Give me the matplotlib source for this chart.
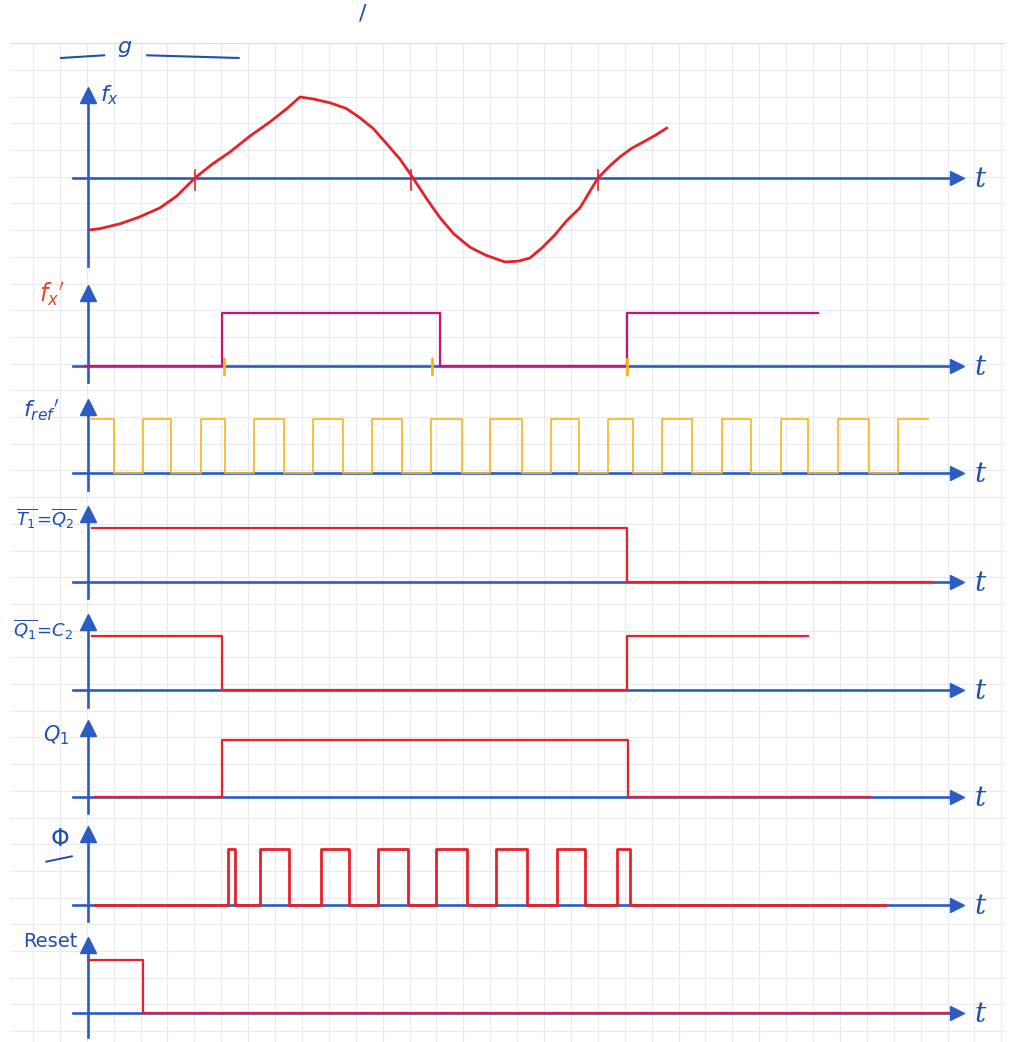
import numpy as np
import matplotlib
matplotlib.use("Agg")
import matplotlib.pyplot as plt

# ---------------- data (time in grid cells, levels in grid cells) ----------------
# analog input f_x
fx_t = [0.07, 0.45, 1.19, 1.9, 2.68, 3.3, 3.98, 4.6, 5.28, 6.0, 6.77, 7.4, 7.88, 8.4, 9.0,
        9.6, 10.11, 10.6, 11.04, 11.6, 12.08, 12.6, 13.09, 13.6, 14.2, 14.8, 15.5, 16.0,
        16.43, 16.9, 17.36, 17.8, 18.29, 18.96, 19.4, 19.78, 20.2, 20.71, 21.1, 21.52]
fx_v = [-1.95, -1.9, -1.72, -1.47, -1.12, -0.68, 0.0, 0.5, 0.97, 1.55, 2.1, 2.6, 3.03, 2.95, 2.81,
        2.6, 2.25, 1.85, 1.35, 0.7, 0.0, -0.8, -1.5, -2.1, -2.6, -2.9, -3.15, -3.12,
        -3.0, -2.6, -2.13, -1.6, -1.12, 0.0, 0.45, 0.79, 1.1, 1.38, 1.6, 1.87]
fx_zero_t = [3.98, 12.0, 18.96]

# f_x' comparator output
fxp_t = [-0.11, 4.98, 13.09, 20.04, 27.14]
fxp_v = [0, 1, 0, 1, 1]
fxp_marks = [5.05, 12.8, 20.04]

# reference clock f_ref'
fref_t = [0.07, 0.97, 2.04, 3.09, 4.19, 5.09, 6.17, 7.29, 8.36, 9.48, 10.56, 11.67, 12.75,
          13.90, 14.94, 16.13, 17.21, 18.25, 19.33, 20.26, 21.34, 22.45, 23.57, 24.65,
          25.76, 26.77, 27.88, 29.03, 30.11, 31.23]
fref_v = [1, 0, 1, 0, 1, 0, 1, 0, 1, 0, 1, 0, 1, 0, 1, 0, 1, 0, 1, 0, 1, 0, 1, 0, 1, 0, 1, 0, 1, 1]

# T1 = Q2bar
t1_t = [0.15, 20.04, 31.38]
t1_v = [1, 0, 0]

# Q1bar = C2
q1b_t = [0.15, 4.98, 20.04, 26.77]
q1b_v = [1, 0, 1, 1]

# Q1
q1_t = [0.26, 4.98, 20.07, 29.07]
q1_v = [0, 1, 0, 0]

# Phi (gated clock)
phi_t = [0.26, 5.2, 5.46, 6.39, 7.47, 8.66, 9.70, 10.78, 11.90, 12.94, 14.09, 15.17,
         16.32, 17.43, 18.48, 19.67, 20.15, 29.63]
phi_v = [0, 1, 0, 1, 0, 1, 0, 1, 0, 1, 0, 1, 0, 1, 0, 1, 0, 0]

# Reset
rst_t = [0.0, 2.04, 32.0]
rst_v = [1, 0, 0]

labels = [r"$f_x$", r"$f_x{}'$", r"$f_{ref}{}'$", r"$\overline{T_1}\!=\!\overline{Q_2}$",
          r"$\overline{Q_1}\!=\!C_2$", r"$Q_1$", r"$\Phi$", "Reset"]

# ---------------- layout ----------------
W, H = 1011, 1042
GX, GY = 26.9, 26.7          # pixels per grid cell
X0, Y0 = 88.0, 43.3          # origin of time axis / top grid line (pixels)

baselines = [5.04, 12.09, 16.09, 20.17, 24.22, 28.23, 32.27, 36.32]
amp = [1.0, 2.0, 2.02, 2.02, 2.02, 2.15, 2.1, 2.0]
axis_top = [3.45, 3.1, 2.8, 2.9, 2.9, 2.95, 3.0, 2.9]
axis_bot = [3.3, 0.6, 0.65, 0.6, 0.65, 0.6, 0.6, 0.9]
label_pos = [(0.45, 1.95), (-1.35, 9.4), (-1.75, 13.75), (-1.55, 17.8),
             (-1.65, 21.95), (-1.2, 25.9), (-1.05, 29.8), (-1.4, 33.65)]
label_size = [16, 17, 16, 13, 13, 15, 17, 14]

BLUE = "#2a5cc4"
LBLUE = "#1f4fb0"
RED = "#e8202a"
MAG = "#c8146e"
ORANGE = "#f6b51c"

fig = plt.figure(figsize=(W / 100, H / 100), dpi=100)
ax = fig.add_axes([0, 0, 1, 1])
ax.set_xlim(-X0 / GX, (W - X0) / GX)
ax.set_ylim((H - Y0) / GY, -Y0 / GY)
ax.axis("off")

# grid paper
gx_lines = np.arange(-2.045, 34.5, 1.0)
for g in gx_lines:
    ax.plot([g, g], [0, 40], color="#e8eaf2", lw=0.8, zorder=0)
for k in range(0, 38):
    ax.plot([-2.9, 34.1], [k, k], color="#e8eaf2" if k else "#d9dbe3", lw=0.8, zorder=0)

# axes
t_end = 32.15
for i, b in enumerate(baselines):
    ax.plot([-0.55, t_end], [b, b], color=BLUE, lw=1.9, zorder=2)
    ax.plot([32.3], [b], marker=">", color=BLUE, ms=10, zorder=3)
    ax.text(33.15, b + 0.05, "t", color=LBLUE, fontsize=20, style="italic",
            ha="center", va="center", family="DejaVu Serif")
    ax.plot([0, 0], [b - axis_top[i] + 0.3, b + axis_bot[i]], color=BLUE, lw=1.9, zorder=2)
    ax.plot([0], [b - axis_top[i] + 0.35], marker="^", color=BLUE, ms=11, zorder=3)
    lx, ly = label_pos[i]
    ax.text(lx, ly, labels[i], color=("#e8452a" if i == 1 else LBLUE), fontsize=label_size[i],
            ha=("left" if i == 0 else "center"), va="center")

# underline of the Phi label
lx, ly = label_pos[6]
ax.plot([lx - 0.5, lx + 0.45], [ly + 0.85, ly + 0.65], color=LBLUE, lw=1.4)

# f_x curve
b = baselines[0]
ax.plot(fx_t, [b - v for v in fx_v], color=RED, lw=2.0, zorder=4, solid_capstyle="round")
for zt in fx_zero_t:
    ax.plot([zt, zt], [b - 0.3, b + 0.45], color=RED, lw=1.2, zorder=4)

def steps(t, v, idx, color, lw):
    bb = baselines[idx]
    ax.plot(t, [bb - x * amp[idx] for x in v], drawstyle="steps-post",
            color=color, lw=lw, zorder=4)

steps(fxp_t, fxp_v, 1, MAG, 1.6)
for mt in fxp_marks:
    ax.plot([mt, mt], [baselines[1] - 0.25, baselines[1] + 0.3], color=ORANGE, lw=2.0, zorder=5)
steps(fref_t, fref_v, 2, ORANGE, 1.2)
steps(t1_t, t1_v, 3, RED, 1.6)
steps(q1b_t, q1b_v, 4, RED, 1.6)
steps(q1_t, q1_v, 5, RED, 1.6)
steps(phi_t, phi_v, 6, RED, 2.0)
steps(rst_t, rst_v, 7, RED, 1.6)

# handwriting fragments at the top of the page
ax.text(1.35, 0.15, "g", color=LBLUE, fontsize=16, style="italic", ha="center", va="center")
ax.plot([-1.0, 0.6], [0.55, 0.45], color=LBLUE, lw=1.5)
ax.plot([2.2, 5.6], [0.45, 0.55], color=LBLUE, lw=1.5)
ax.text(10.2, -1.1, "/", color=LBLUE, fontsize=16, ha="center", va="center")

fig.savefig("out.png", dpi=100)
